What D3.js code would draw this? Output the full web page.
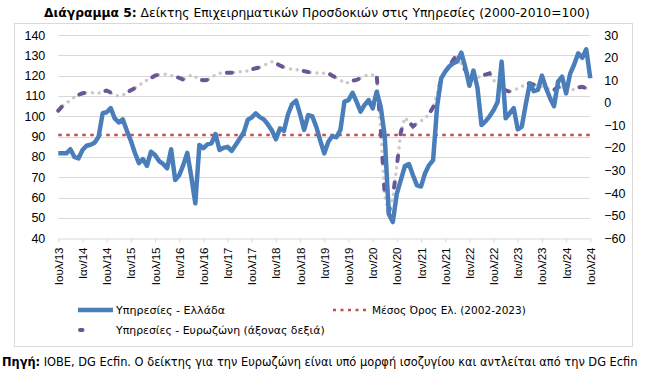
<!DOCTYPE html>
<html><head><meta charset="utf-8">
<script src="https://cdn.jsdelivr.net/npm/d3@7"></script>
<style>
html,body{margin:0;padding:0;background:#fff;}
svg{display:block;font-family:"DejaVu Sans",sans-serif;}
</style></head>
<body><svg id="c" width="654" height="385"></svg>
<script>
// Tick labels (every 6 months, Jul 2013 – Jul 2024)
const tickLabels = ["Ιουλ/13","Ιαν/14","Ιουλ/14","Ιαν/15","Ιουλ/15","Ιαν/16","Ιουλ/16","Ιαν/17","Ιουλ/17","Ιαν/18","Ιουλ/18","Ιαν/19","Ιουλ/19","Ιαν/20","Ιουλ/20","Ιαν/21","Ιουλ/21","Ιαν/22","Ιουλ/22","Ιαν/23","Ιουλ/23","Ιαν/24","Ιουλ/24"];
// Greece services expectations index (left axis), monthly Jul 2013 – Jul 2024
const greece = [81.8,81.8,81.8,83.8,80,79.3,83.4,85.5,86,87,90,101.5,102,104,99,97,98.5,93,88,82,
77,79,75.6,82.6,81,78,76.6,74.4,83.8,68.7,71,76,82,70.3,57.2,85.9,84.3,86.2,86.7,91.3,
83.4,84.5,85,83,85.9,89,92,98.2,99.5,101.5,99.6,98.5,96,93,88.7,94.1,92.9,101,106,107.7,
101,93.3,100.6,100.1,94.9,88,81.8,87.5,90.3,89.7,93.3,107.2,108,111.6,107.2,102.3,105.6,108,103.9,112.1,
104.7,90,52,48,62,68.7,75.5,76.5,71,66,65.5,72,76,78.5,105,118.7,122,124.5,126.1,127,
131.3,124,115,122.5,114,95.7,97.5,100,103,107,126.9,99,101.5,104,93.6,94.9,106,116.2,112.4,113,
120,114,109,105,117,119.5,111.3,121,125.5,131,128.8,133,118.7];
// Eurozone services confidence (right axis, balance)
const eurozone = [-3.5,-1.5,0,1,2.5,3.5,4.2,4.5,4.5,4.3,4.2,4.8,5.4,4.5,3.2,3.0,3.4,4.5,5.5,6.5,
7.5,9,10,11,12,12.5,12.7,12.5,12,11.7,11,10.3,11,12.3,11.5,10.3,10,10.1,11,12.5,
13,13.2,13.3,13.3,13.5,13.7,13.8,14.2,14.8,15.3,15.7,16.5,17.5,18.2,17.5,16.5,15.7,15.2,14.8,14.6,
14.5,14,13.6,13.3,13.2,13.1,13,13,12,11,10,8.6,9,9.8,10.1,11,12,12.3,12.3,12.3,
-12,-41,-48.5,-42,-28,-13,-6.5,-8.5,-10.5,-9,-8,-7,-5,-2,4,10,14,16,19,21.6,
17,14.5,10.8,11,11.3,11.8,12.5,13,10,8,6.5,5.5,4.9,5.5,6.4,7.3,8.2,8.6,8,7.5,
7.1,6.5,6,5.7,7.1,6.5,6,5.7,6,6.8,7.1,6.4,6.2];
// Greece long-run average (2002-2023), left axis
const greeceAverage = [90.8];
const leftTicks = [40,50,60,70,80,90,100,110,120,130,140];
const rightTicks = [-60,-50,-40,-30,-20,-10,0,10,20,30];
const legendLabels = ["Υπηρεσίες  - Ελλάδα","Μέσος Όρος Ελ. (2002-2023)","Υπηρεσίες - Ευρωζώνη (άξονας δεξιά)"];

const svg = d3.select("#c");
const x = d3.scaleLinear().domain([0, greece.length-1]).range([58.3, 590.3]);
const yL = d3.scaleLinear().domain([40,140]).range([238.3, 35]);
const yR = d3.scaleLinear().domain([-60,30]).range([238.3, 35]);

// fit a text element's font size so it spans a target width
function fit(sel, target){
  const node = sel.node();
  const fs = parseFloat(sel.attr("font-size"));
  const w = node.getComputedTextLength ? node.getBBox().width : 0;
  if (w > 0) sel.attr("font-size", (fs*target/w).toFixed(2));
}

// chart border
svg.append("rect").attr("x",14.5).attr("y",23.5).attr("width",618).attr("height",323)
  .attr("fill","none").attr("stroke","#d9d9d9");

// title
const t = svg.append("text").attr("x",44).attr("y",17).attr("font-size",12.6).attr("fill","#000");
t.append("tspan").attr("font-weight","bold").text("Διάγραμμα 5:");
t.append("tspan").text(" Δείκτης Επιχειρηματικών Προσδοκιών στις Υπηρεσίες (2000-2010=100)");
fit(t, 546);

// gridlines
svg.append("g").selectAll("line").data(leftTicks.slice(1)).join("line")
  .attr("x1",58.3).attr("x2",590.3).attr("y1",d=>Math.round(yL(d))+0.5).attr("y2",d=>Math.round(yL(d))+0.5)
  .attr("stroke","#d9d9d9").attr("stroke-width",1);

// left axis
const gL = svg.append("g").attr("transform","translate(58.3,0)")
  .call(d3.axisLeft(yL).tickValues(leftTicks).tickSize(0).tickPadding(13));
gL.select(".domain").remove();
gL.selectAll("text").attr("font-size",12.5).attr("fill","#000").attr("font-family","Liberation Sans, Arial, sans-serif");

// right axis
const gR = svg.append("g").attr("transform","translate(590.3,0)")
  .call(d3.axisRight(yR).tickValues(rightTicks).tickSize(0).tickPadding(14));
gR.select(".domain").remove();
gR.selectAll("text").attr("font-size",12.5).attr("fill","#000").attr("font-family","Liberation Sans, Arial, sans-serif");

// bottom axis
const tickIdx = tickLabels.map((d,i)=>i*6);
const gB = svg.append("g").attr("transform","translate(0,"+(Math.round(yL(40))+0.5)+")")
  .call(d3.axisBottom(x).tickValues(tickIdx).tickFormat((d,i)=>tickLabels[i]).tickSize(4).tickSizeOuter(0));
gB.select(".domain").attr("stroke","#d9d9d9");
gB.selectAll(".tick line").attr("stroke","#d9d9d9");
gB.selectAll("text").attr("font-size",11.5).attr("fill","#000")
  .attr("font-family","Liberation Sans, Arial, sans-serif")
  .attr("transform","rotate(-90)").attr("text-anchor","end").attr("dy","0.35em").attr("y",0).attr("x",-9);

// average line
svg.append("line").attr("x1",58.3).attr("x2",590.3)
  .attr("y1",yL(greeceAverage[0])).attr("y2",yL(greeceAverage[0]))
  .attr("stroke","#c0504d").attr("stroke-width",2.5).attr("stroke-dasharray","3.5,4.5");

// eurozone line
const lineR = d3.line().x((d,i)=>x(i)).y(d=>yR(d)).curve(d3.curveLinear);
svg.append("path").datum(eurozone).attr("d",lineR).attr("fill","none")
  .attr("stroke","#c9c9c9").attr("stroke-width",3.5).attr("stroke-linecap","round")
  .attr("stroke-dasharray","0,6.7");
svg.append("path").datum(eurozone).attr("d",lineR).attr("fill","none")
  .attr("stroke","#6b5596").attr("stroke-width",4).attr("stroke-linecap","round")
  .attr("stroke-dasharray","5,21.8");

// greece line
const lineL = d3.line().x((d,i)=>x(i)).y(d=>yL(d));
svg.append("path").datum(greece).attr("d",lineL).attr("fill","none")
  .attr("stroke","#4a7ebb").attr("stroke-width",4.5).attr("stroke-linejoin","round");

// legend
const lg = svg.append("g").attr("fill","#000");
lg.append("line").attr("x1",78).attr("x2",113).attr("y1",310).attr("y2",310)
  .attr("stroke","#4a7ebb").attr("stroke-width",4.5);
fit(lg.append("text").attr("x",116).attr("y",314).attr("font-size",11).text(legendLabels[0]), 110);
lg.append("line").attr("x1",333).attr("x2",369).attr("y1",310).attr("y2",310)
  .attr("stroke","#c0504d").attr("stroke-width",2.5).attr("stroke-dasharray","3,4.5");
fit(lg.append("text").attr("x",372).attr("y",314).attr("font-size",11).text(legendLabels[1]), 154);
lg.append("line").attr("x1",80).attr("x2",110).attr("y1",330).attr("y2",330)
  .attr("stroke","#6b5596").attr("stroke-width",4).attr("stroke-linecap","round").attr("stroke-dasharray","2.5,27.5");
fit(lg.append("text").attr("x",116).attr("y",334).attr("font-size",11).text(legendLabels[2]), 210);

// source
const s = svg.append("text").attr("x",2).attr("y",366).attr("font-size",11).attr("fill","#000");
s.append("tspan").attr("font-weight","bold").text("Πηγή:");
s.append("tspan").text(" ΙΟΒΕ, DG Ecfin. Ο δείκτης για την Ευρωζώνη είναι υπό μορφή ισοζυγίου και αντλείται από την DG Ecfin");
fit(s, 636);
</script></body></html>
